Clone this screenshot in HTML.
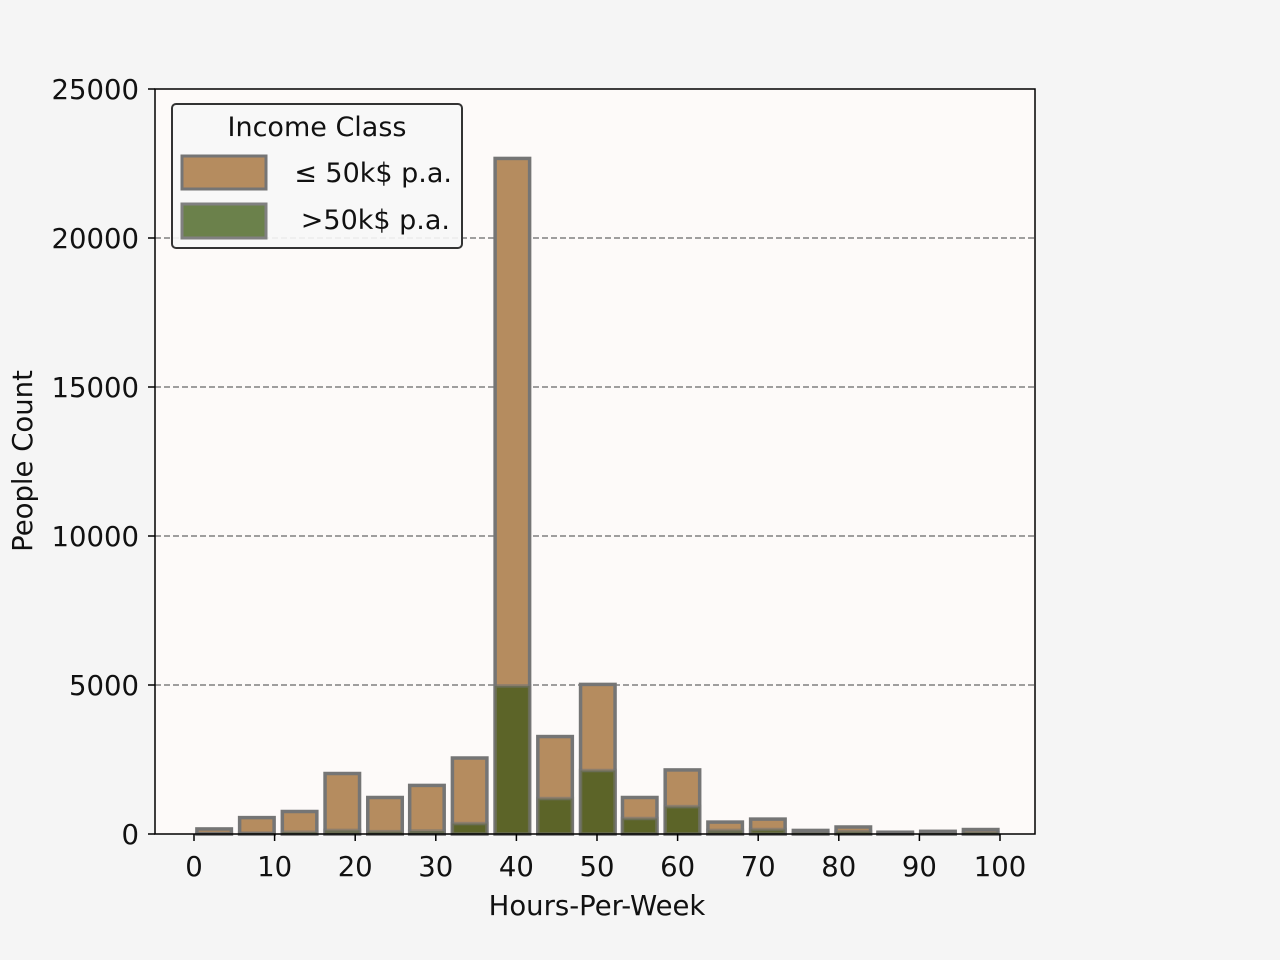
<!DOCTYPE html>
<html><head><meta charset="utf-8"><style>
body{margin:0;background:#f5f5f5;}
svg{display:block;font-family:"DejaVu Sans","Liberation Sans",sans-serif;}
</style></head><body>
<svg id="chart" width="1280" height="960" viewBox="0 0 1280 960">
<rect x="0" y="0" width="1280" height="960" fill="#f5f5f5"/>
<rect x="155" y="89" width="880" height="745" fill="#fdfaf9"/>
<g id="grid"></g>
<g id="bars"></g>
<g id="axes"></g>
<g>
<rect x="172" y="104" width="290" height="144" rx="4" fill="#f7f7f7" fill-opacity="0.9" stroke="#333" stroke-width="2"/>
<text x="317" y="136" font-size="27" text-anchor="middle" fill="#111">Income Class</text>
<rect x="182" y="156" width="84" height="33" fill="#b58c5f" stroke="#757575" stroke-width="3"/>
<text x="452" y="182" font-size="27" text-anchor="end" fill="#111">≤ 50k$ p.a.</text>
<rect x="182" y="204" width="84" height="34" fill="#6b814b" stroke="#808080" stroke-width="3"/>
<text x="450" y="229" font-size="27" text-anchor="end" fill="#111">&gt;50k$ p.a.</text>
</g>
<text x="597" y="915" font-size="27.5" text-anchor="middle" fill="#111">Hours-Per-Week</text>
<text transform="translate(32,461) rotate(-90)" font-size="27.5" text-anchor="middle" fill="#111">People Count</text>
</svg>
<script>
const binCenters = [2.5,7.8,13.1,18.4,23.7,28.9,34.2,39.5,44.8,50.1,55.3,60.6,65.9,71.2,76.5,81.8,87.0,92.3,97.6];
const totalCounts = [170,550,755,2030,1225,1630,2550,22670,3270,5020,1225,2150,400,500,120,235,60,90,150];
const highCounts = [20,30,60,120,80,100,350,4970,1190,2130,520,920,120,150,40,80,20,30,50];
const xTicks = [0,10,20,30,40,50,60,70,80,90,100];
const yTicks = [0,5000,10000,15000,20000,25000];
const NS="http://www.w3.org/2000/svg";
const X = h => 194 + h*8.06;
const Y = v => 834 - v*(745/25000);
const barW = 4.28*8.06;
function mk(tag, attrs, parent){const e=document.createElementNS(NS,tag);for(const k in attrs)e.setAttribute(k,attrs[k]);parent.appendChild(e);return e;}
const grid=document.getElementById('grid'), bars=document.getElementById('bars'), axes=document.getElementById('axes');
yTicks.forEach(v=>{
  if(v>0 && v<25000){
    const l=mk('line',{x1:155,x2:1035,y1:Y(v),y2:Y(v),stroke:'#808080','stroke-width':1.5,'stroke-dasharray':'6,3'},grid);
    
    
  }
  const t=mk('line',{x1:148,x2:155,y1:Y(v),y2:Y(v),stroke:'#000','stroke-width':1.5},axes);
  
  
  const tx=mk('text',{x:139,y:Y(v)+10,'font-size':27.5,'text-anchor':'end',fill:'#111'},axes);
  tx.textContent=v;
  
  
});
xTicks.forEach(h=>{
  const t=mk('line',{x1:X(h),x2:X(h),y1:834,y2:841,stroke:'#000','stroke-width':1.5},axes);
  
  
  const tx=mk('text',{x:X(h),y:876,'font-size':27.5,'text-anchor':'middle',fill:'#111'},axes);
  tx.textContent=h;
  
  
});
binCenters.forEach((c,i)=>{
  const x=X(c)-barW/2;
  const r1=mk('rect',{x:x,y:Y(totalCounts[i]),width:barW,height:834-Y(totalCounts[i]),fill:'#b58c5f',stroke:'#757575','stroke-width':3.5},bars);
  
  
  const r2=mk('rect',{x:x,y:Y(highCounts[i]),width:barW,height:834-Y(highCounts[i]),fill:'#5c6428',stroke:'#757575','stroke-width':3.5,'stroke-opacity':0.6},bars);
  
  
});
const sp=mk('rect',{x:155,y:89,width:880,height:745,fill:'none',stroke:'#000','stroke-width':1.5},axes);


</script>
</body></html>
